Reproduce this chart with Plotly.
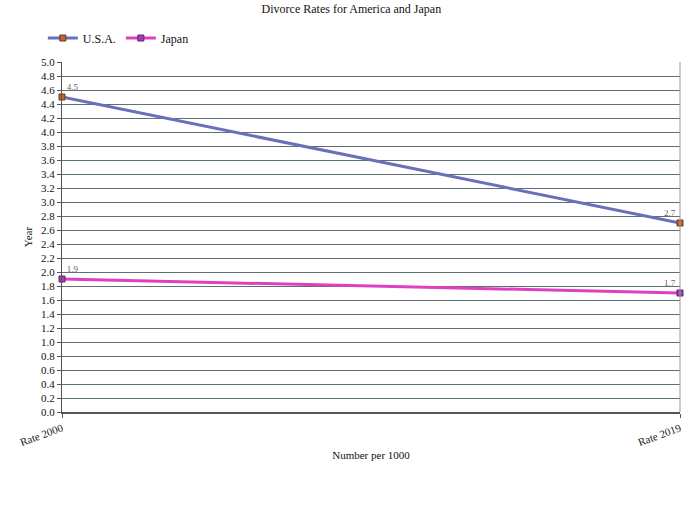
import plotly.graph_objects as go

categories = ["Rate 2000", "Rate 2019"]
usa = [4.5, 2.7]
japan = [1.9, 1.7]
y_ticks = [round(i * 0.2, 1) for i in range(26)]

font_family = "Liberation Serif, Times New Roman, serif"

fig = go.Figure()
fig.add_trace(go.Scatter(
    x=categories, y=usa, name="U.S.A.", mode="lines+markers+text",
    line=dict(color="#6B6FB8", width=3),
    marker=dict(symbol="square", size=6, color="#C8602E", line=dict(color="#5A3A2A", width=1)),
    text=[f"{v:.1f}" for v in usa], textposition=["top right", "top left"],
    textfont=dict(size=9, color="#666666", family=font_family),
    cliponaxis=False,
))
fig.add_trace(go.Scatter(
    x=categories, y=japan, name="Japan", mode="lines+markers+text",
    line=dict(color="#E040C0", width=3),
    marker=dict(symbol="square", size=6, color="#A040B0", line=dict(color="#602070", width=1)),
    text=[f"{v:.1f}" for v in japan], textposition=["top right", "top left"],
    textfont=dict(size=9, color="#666666", family=font_family),
    cliponaxis=False,
))

fig.update_layout(
    width=700, height=515,
    margin=dict(l=62, r=20, t=62, b=103, autoexpand=False),
    paper_bgcolor="white", plot_bgcolor="white",
    font=dict(family=font_family, size=11, color="#111111"),
    title=dict(text="Divorce Rates for America and Japan", x=0.502, xanchor="center",
               xref="container", yref="container",
               y=1 - 9 / 515, yanchor="middle", font=dict(size=12, family=font_family)),
    showlegend=True,
    legend=dict(orientation="h", x=-0.031, xanchor="left",
                yref="container", y=1 - 38 / 515, yanchor="middle",
                font=dict(size=12, family=font_family), itemwidth=30,
                tracegroupgap=0),
    xaxis=dict(
        type="category", range=[0, 1], showgrid=False, automargin=False,
        tickangle=-20, ticks="outside", ticklen=4, tickcolor="#555555",
        showline=True, linecolor="#555555", linewidth=2, mirror=False,
        title=dict(text="Number per 1000", font=dict(size=11, family=font_family), standoff=4),
        tickfont=dict(size=11, family=font_family, color="#222222"),
    ),
    yaxis=dict(
        range=[0, 5.0], tickvals=y_ticks, ticktext=[f"{v:.1f}" for v in y_ticks],
        showgrid=True, gridcolor="#5F7075", gridwidth=1, automargin=False,
        ticks="outside", ticklen=4, tickcolor="#555555",
        showline=True, linecolor="#555555", linewidth=1, zeroline=False,
        title=dict(text="Year", font=dict(size=11, family=font_family), standoff=6),
        tickfont=dict(size=11, family=font_family),
    ),
)

# right border line
fig.add_shape(type="line", xref="paper", yref="paper", x0=1, x1=1, y0=0, y1=1,
              line=dict(color="#999999", width=1))

fig.write_html("out.html", config={"displayModeBar": False},
               post_script="document.body.style.margin='0';document.body.style.padding='0';")
